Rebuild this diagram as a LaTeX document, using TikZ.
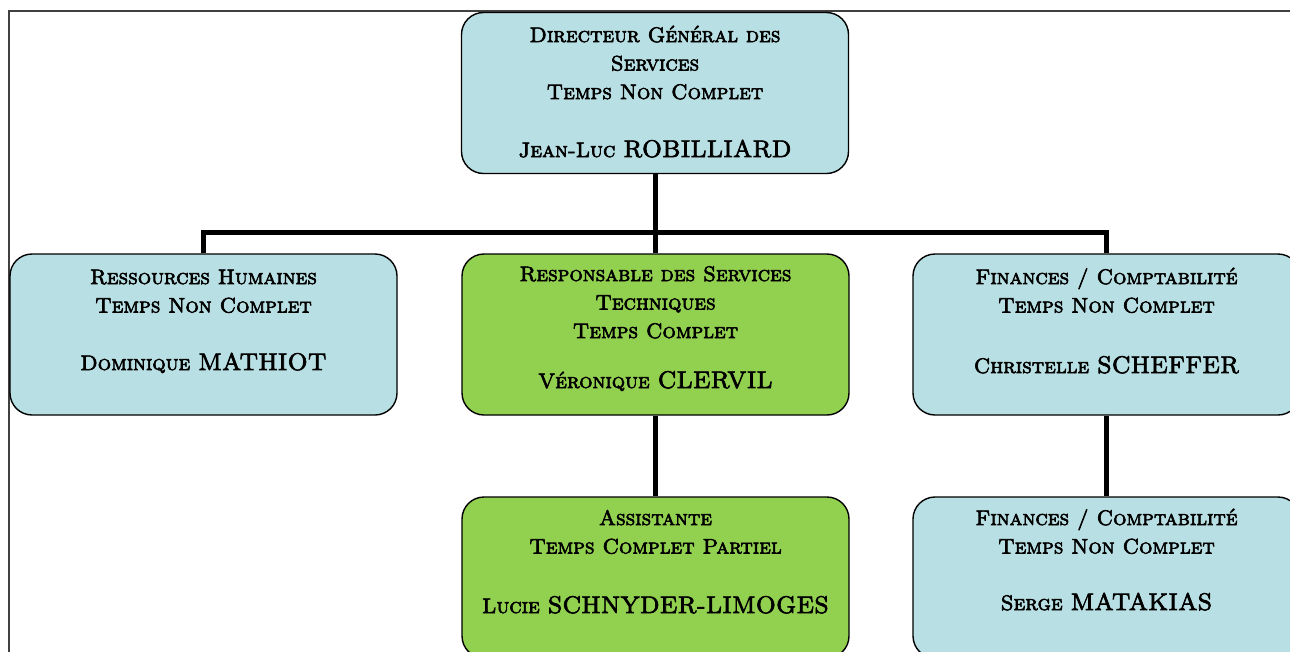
\documentclass[tikz,border=0pt]{standalone}
\usepackage{fontspec}
\usetikzlibrary{backgrounds}
\newfontfamily\orgsc{lmromancaps10-regular.otf}[FakeBold=3]
\definecolor{boxblue}{RGB}{184,223,227}
\definecolor{boxgreen}{RGB}{146,208,80}
\definecolor{framecol}{RGB}{64,64,64}
\newcommand\bigname[1]{{\fontsize{24}{28.5}\selectfont #1}}
\begin{document}
\begin{tikzpicture}[x=1pt,y=-1pt,
  box/.style={draw=black, line width=1.4pt, rounded corners=22pt,
    minimum width=387pt, minimum height=161pt, inner sep=0pt},
  bluebox/.style={box, fill=boxblue},
  greenbox/.style={box, fill=boxgreen},
  conn/.style={line width=5pt, draw=black},
  txt/.style={anchor=base, inner sep=0pt, font=\orgsc\fontsize{21}{28.5}\selectfont}]
\clip (0,0) rectangle (1290,651);
\draw[framecol, line width=2pt] (1292,10.5) -- (8.5,10.5) -- (8.5,653);
% boxes
\node[bluebox]  (dgs) at (655,93) {};
\node[bluebox]  (rh)  at (203.5,334.5) {};
\node[greenbox] (rst) at (655.5,334.5) {};
\node[bluebox]  (ff)  at (1106.5,334.5) {};
\node[greenbox] (ast) at (655.5,577.5) {};
\node[bluebox]  (ff2) at (1106.5,577.5) {};
% texts
\node[txt] (dgsT) at (655,42) {\begin{tabular}[t]{@{}c@{}}Directeur Général des\\ Services\\ Temps Non Complet\\[29.5pt] Jean-Luc \bigname{ROBILLIARD}\end{tabular}};
\node[txt] (rhT) at (203.5,284) {\begin{tabular}[t]{@{}c@{}}Ressources Humaines\\ Temps Non Complet\\[29pt] Dominique \bigname{MATHIOT}\end{tabular}};
\node[txt] (rstT) at (655.5,281) {\begin{tabular}[t]{@{}c@{}}Responsable des Services\\ Techniques\\ Temps Complet\\[21.5pt] Véronique \bigname{CLERVIL}\end{tabular}};
\node[txt] (ffT) at (1106.5,284) {\begin{tabular}[t]{@{}c@{}}Finances / Comptabilité\\ Temps Non Complet\\[32pt] Christelle \bigname{SCHEFFER}\end{tabular}};
\node[txt] (astT) at (655.5,525) {\begin{tabular}[t]{@{}c@{}}Assistante\\ Temps Complet Partiel\\[31pt] Lucie \bigname{SCHNYDER-LIMOGES}\end{tabular}};
\node[txt] (ff2T) at (1106.5,525) {\begin{tabular}[t]{@{}c@{}}Finances / Comptabilité\\ Temps Non Complet\\[28pt] Serge \bigname{MATAKIAS}\end{tabular}};
% connectors
\coordinate (bar) at (655,232);
\begin{scope}[on background layer]
\draw[conn] (dgs.south) -- (dgs.south |- bar);
\draw[conn] (rh.north) |- (ff.north |- bar) -- (ff.north);
\draw[conn] (rst.north |- bar) -- (rst.north);
\draw[conn] (rst.south) -- (ast.north);
\draw[conn] (ff.south) -- (ff2.north);
\end{scope}
\end{tikzpicture}
\end{document}
